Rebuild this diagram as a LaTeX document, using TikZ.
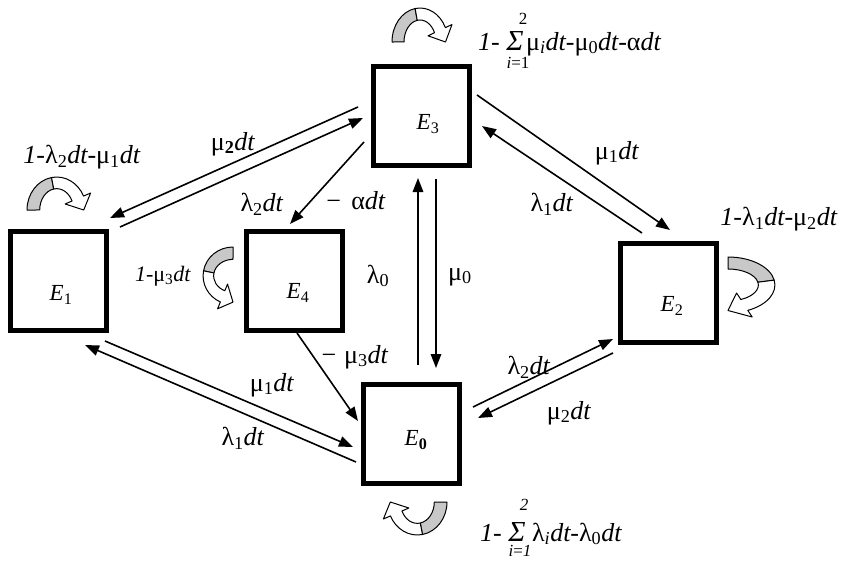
\documentclass[tikz,border=0pt]{standalone}
\usepackage{fontspec}
\setmainfont{Liberation Serif}
\usetikzlibrary{arrows.meta}
\definecolor{loopgray}{RGB}{200,200,200}
\newcommand\mydt{\textit{dt}}
\newcommand\bigsig{{\fontsize{29}{30}\selectfont\textit{Σ}}}
\newcommand\selfloopshape{%
  \filldraw[fill=loopgray, line width=1pt, line join=round]
    (0,0) arc[start angle=180, end angle=100, x radius=28, y radius=34]
    -- (25.22,21.67) arc[start angle=100, end angle=180, x radius=16, y radius=22] -- cycle;
  \filldraw[fill=white, line width=1pt, line join=round]
    (23.14,33.48) arc[start angle=100, end angle=25, x radius=28, y radius=34]
    -- (60,17.5) -- (53.5,0) -- (36,6.2) -- (42.5,9.3)
    arc[start angle=25, end angle=100, x radius=16, y radius=22] -- cycle;
}
\tikzset{
  statebox/.style={draw, line width=5pt, minimum width=96pt, minimum height=99pt, inner sep=0pt},
  conn/.style={line width=1.6pt, -{Triangle[length=14pt,width=10.5pt]}},
  lbl/.style={font=\fontsize{26}{30}\selectfont, inner sep=0pt},
  elbl/.style={font=\fontsize{23}{27}\selectfont, inner sep=0pt},
  smalllbl/.style={font=\fontsize{22}{26}\selectfont, inner sep=0pt},
  limlbl/.style={font=\fontsize{17}{20}\selectfont, inner sep=0pt},
}
\begin{document}
\begin{tikzpicture}[x=1pt, y=-1pt]
\useasboundingbox (0,0) rectangle (843,562);
% boxes
\node[statebox] (E1) at (58.5,281) {};
\node[statebox] (E4) at (294.5,280.5) {};
\node[statebox] (E3) at (421.5,115.5) {};
\node[statebox] (E2) at (668.5,292.5) {};
\node[statebox] (E0) at (411.5,434) {};
% box labels
\node[elbl] (t1) at (61,295) {\textit{E}\textsubscript{1}};
\node[elbl] (t4) at (298,293) {\textit{E}\textsubscript{4}};
\node[elbl] (t3) at (428,124) {\textit{E}\textsubscript{3}};
\node[elbl] (t2) at (672,306) {\textit{E}\textsubscript{2}};
\node[elbl] (t0) at (416,440) {\textit{E}\textsubscript{\textbf{0}}};
% connectors
\draw[conn] ([shift={(-13,43.5)}]E3.north west) -- ([shift={(1,-11)}]E1.north east);
\draw[conn] ([shift={(11,-2)}]E1.north east) -- ([shift={(-8,54.5)}]E3.north west);
\draw[conn] ([shift={(5,31.5)}]E3.north east) -- ([shift={(52,-10.5)}]E2.north west);
\draw[conn] ([shift={(24,-7.5)}]E2.north west) -- ([shift={(10,62.5)}]E3.north east);
\draw[conn] ([shift={(-7,78.5)}]E3.north west) -- ([shift={(46,-4.5)}]E4.north west);
\draw[conn] ([shift={(57,-17)}]E0.north west) -- ([shift={(47,10.5)}]E3.south west);
\draw[conn] ([shift={(65,11.5)}]E3.south west) -- ([shift={(75,-14)}]E0.north west);
\draw[conn] ([shift={(53,0.5)}]E4.south west) -- ([shift={(-3,39)}]E0.north west);
\draw[conn] ([shift={(-4,8)}]E1.south east) -- ([shift={(-8,65)}]E0.north west);
\draw[conn] ([shift={(-5,80)}]E0.north west) -- ([shift={(-24,12)}]E1.south east);
\draw[conn] ([shift={(11,25)}]E0.north east) -- ([shift={(-5,-5.5)}]E2.south west);
\draw[conn] ([shift={(-5,8.5)}]E2.south west) -- ([shift={(16,36)}]E0.north east);
% connector labels
\node[lbl] (lmu2a) at (233,144) {μ\textsubscript{\textbf{2}}\mydt};
\node[lbl] (llam2a) at (262,204) {λ\textsubscript{2}\mydt};
\node[lbl] (lalpha) at (356,201) {−\hspace{0.4em}α\mydt};
\node[lbl] (lmu1a) at (617,153) {μ\textsubscript{1}\mydt};
\node[lbl] (llam1a) at (552,204) {λ\textsubscript{1}\mydt};
\node[lbl] (llam0) at (378,276) {λ\textsubscript{0}};
\node[lbl] (lmu0) at (460,277) {μ\textsubscript{0}};
\node[lbl] (lmu3) at (355,357) {−\hspace{0.3em}μ\textsubscript{3}\mydt};
\node[lbl] (lmu1b) at (272,385) {μ\textsubscript{1}\mydt};
\node[lbl] (llam1b) at (243,438) {λ\textsubscript{1}\mydt};
\node[lbl] (llam2b) at (529,367) {λ\textsubscript{2}\mydt};
\node[lbl] (lmu2b) at (569,413) {μ\textsubscript{2}\mydt};
% self-loop labels
\node[lbl] (lself1) at (82,157) {\textit{1-}λ\textsubscript{2}\textit{dt-}μ\textsubscript{1}\mydt};
\node[lbl] (lself2) at (779,219) {\textit{1-}λ\textsubscript{1}\textit{dt-}μ\textsubscript{2}\mydt};
\node[smalllbl] (lself4) at (163,276) {\textit{1-}μ\textsubscript{3}\mydt};
\node[lbl, anchor=base west] (topf) at (478,50) {\textit{1-} \bigsig\hspace{0.1em}μ\textsubscript{\textit{i}}\textit{dt-}μ\textsubscript{0}\textit{dt-}α\mydt};
\node[limlbl] (topup) at (523,19) {2};
\node[limlbl] (toplow) at (518,63) {\textit{i}=1};
\node[lbl, anchor=base west] (botf) at (480,541) {\textit{1-} \bigsig\ λ\textsubscript{\textit{i}}\textit{dt-}λ\textsubscript{0}\mydt};
\node[limlbl] (botup) at (524,505) {\textit{2}};
\node[limlbl] (botlow) at (520,551) {\textit{i}=\textit{1}};
% self-loop block arrows
\begin{scope}[shift={(392,42)}, x={(1pt,0pt)}, y={(0pt,1pt)}]
  \selfloopshape
\end{scope}
\begin{scope}[shift={(27,210)}, x={(1.06pt,0pt)}, y={(0pt,0.97pt)}]
  \selfloopshape
\end{scope}
\begin{scope}[shift={(233,247)}, x={(0pt,-1.03pt)}, y={(-0.88pt,0pt)}]
  \selfloopshape
\end{scope}
\begin{scope}[shift={(728,257)}, x={(0pt,-1pt)}, y={(1.38pt,0pt)}]
  \selfloopshape
\end{scope}
\begin{scope}[shift={(447,502)}, x={(-1.06pt,0pt)}, y={(0pt,-0.97pt)}]
  \selfloopshape
\end{scope}
\end{tikzpicture}
\end{document}
